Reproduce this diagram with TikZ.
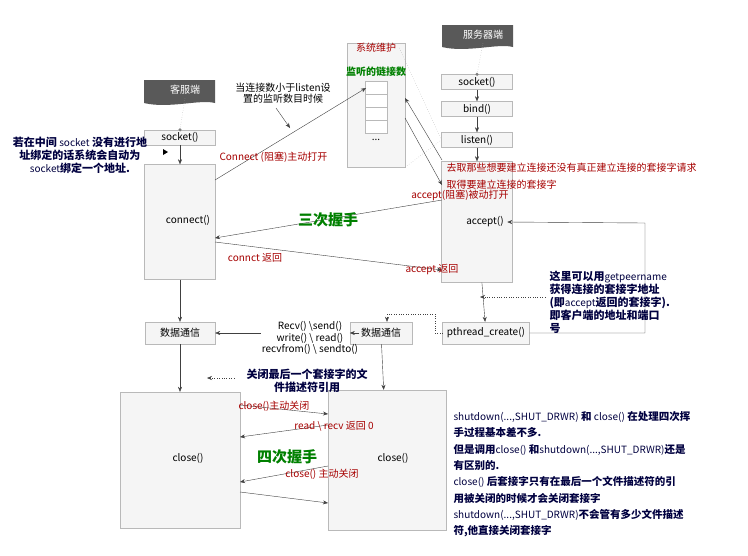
\documentclass[tikz,border=0pt]{standalone}
\usepackage{fontspec}
\setmainfont{Noto Sans CJK SC}
\usetikzlibrary{arrows.meta}
\begin{document}
\begin{tikzpicture}[x=1pt,y=-1pt,font=\fontsize{10}{11.5}\selectfont,
 box/.style={draw=gray!55,fill=gray!8,inner sep=0pt},
 arr/.style={-{Stealth[length=5pt,width=4pt]},draw=black!75},
 dots/.style={dotted,draw=gray!70},
 red/.style={text=red!65!black},
 note/.style={text=blue!25!black,font=\fontsize{11}{13}\bfseries\selectfont,align=left}]
\useasboundingbox (0,0) rectangle (748,555);
\fill[white] (0,0) rectangle (748,555);
% banners
\newcommand\banner[4]{\fill[gray!70!black] (#1,#2) -- (#3,#2) -- (#3,#4) .. controls ({#3-15},{#4-4}) and ({#1+25},{#4+6}) .. (#1,#4) -- cycle;}
\banner{144}{80}{215}{103}
\node[text=white] (cb) at (185,90) {客服端};
\banner{442}{25}{513}{47}
\node[text=white] (sb) at (483,35) {服务器端};
% client column
\node[box,minimum width=71,minimum height=15] (cs) at (180,137.5) {socket()};
\node[box,minimum width=71,minimum height=115] (cc) at (180,222) {};
\node (cct) at (188,220) {connect()};
\node[box,minimum width=70,minimum height=22] (cd) at (180,333) {数据通信};
\node[box,minimum width=120,minimum height=136] (cl) at (180,460) {};
\node at (188,458) {close()};
% server column
\node[box,minimum width=71,minimum height=15] (ss) at (477,82) {socket()};
\node[box,minimum width=71,minimum height=15] (sbd) at (477,109) {bind()};
\node[box,minimum width=71,minimum height=15] (sl) at (477,140) {listen()};
\node[box,minimum width=71,minimum height=121] (sa) at (477,222) {};
\node (sat) at (485,222) {accept()};
\node[box,minimum width=87,minimum height=22] (pc) at (486,333) {pthread\_create()};
\node[box,minimum width=62,minimum height=22] (sd) at (381,333) {数据通信};
\node[box,minimum width=118,minimum height=140] (sc) at (387,460) {};
\node at (393,458) {close()};
% queue
\node[box,minimum width=58,minimum height=124] (q) at (376,105) {};
\node[red] (qt) at (376,48) {系统维护};
\node[text=green!50!black,font=\fontsize{10}{11}\bfseries\selectfont] (qg) at (376,72) {监听的链接数};
\foreach \i in {0,1,2,3}{\draw[gray!55,fill=white] (365,{81+13*\i}) rectangle (387,{94+13*\i});}
\node (qd) at (376,140) {...};
% banner dotted connections
\draw[dots] (cb.south) -- (cs.north) node[circle,fill=gray,inner sep=1.2pt]{};
\draw[dots] (sb.south) -- (ss.north) node[circle,fill=gray,inner sep=1.2pt]{};
\draw[dots] (qt.east) -- (sl.west);
\draw[dots] (q.south east) -- (sl.west);
% vertical arrows
\draw[arr] (cs) -- (cc);
\draw[arr] (ss) -- (sbd);
\draw[arr] (sbd) -- (sl);
\draw[arr] (sl) -- (sa);
\draw[arr] (cc) -- (cd);
\draw[arr] (cd) -- (cl);
\draw[arr] (sa) -- (pc);
\draw[arr] (sd) -- (sc);
% connect to queue
\coordinate (qin) at (366,88);
\draw[arr] (215,180) -- (qin);
\node[red,anchor=west] (ct) at (216,157) {Connect (阻塞)主动打开};
\node[align=center] (nt) at (283,93) {当连接数小于listen设\\置的监听数目时候};
\coordinate (ntp) at (290,128);
\draw[arr] (276,108) -- (ntp);
\node[note,align=center] (ln) at (80,155) {若在中间 {\mdseries\fontsize{10}{13}\selectfont socket} 没有进行地\\址绑定的话系统会自动为\\{\mdseries\fontsize{10}{13}\selectfont socket}绑定一个地址.};
\fill (163,149) -- (168,152) -- (163,155) -- cycle;
% queue <-> accept
\draw[arr] (442,160) -- (405,98);
\draw[arr] (405,118) -- (442,185);
\node[red,anchor=west] (r1) at (443,168) {去取那些想要建立连接还没有真正建立连接的套接字请求};
\node[red,anchor=west] (r2) at (443,185) {取得要建立连接的套接字};
\node[red] (r3) at (460,195) {accept(阻塞)被动打开};
% three-way handshake
\draw[arr] (442,200) -- (215,238);
\draw[arr] (215,242) -- (442,270);
\node[text=green!50!black,font=\fontsize{15}{17}\bfseries\selectfont] (th) at (328,220) {三次握手};
\node[red] (cr) at (255,258) {connct 返回};
\node[red] (ar) at (432,270) {accept 返回};
% getpeername loop
\coordinate (g1) at (645,333);
\coordinate (g2) at (645,223);
\draw[arr] (pc.east) -- (g1) -- (g2) -- (sat.east);
\node[note,anchor=north west] (gn) at (546,267) {这里可以用{\mdseries\fontsize{10}{13}\selectfont getpeername}\\获得连接的套接字地址\\(即{\mdseries\fontsize{10}{13}\selectfont accept}返回的套接字).\\即客户端的地址和端口\\号};
\coordinate (gp) at (480,297);
\draw[dots,arr] (545,297) -- (gp);
% pthread to data
\coordinate (p1) at (435,333);
\coordinate (p2) at (435,314);
\coordinate (p3) at (387,314);
\draw[dots,arr] (pc.west) -- (p1) -- (p2) -- (p3) -- (sd.north -| p3);
% data exchange
\node[align=center,inner sep=1pt] (rw) at (310,338) {Recv() \textbackslash send()\\write() \textbackslash\ read()\\recvfrom() \textbackslash\ sendto()};
\draw[arr] (rw.west |- cd) -- (cd.east);
\draw[arr] (rw.east |- sd) -- (sd.west);
% close notes
\node[note,align=center] (cn) at (307,381) {关闭最后一个套接字的文\\件描述符引用};
\coordinate (cnp) at (207,378);
\draw[dots,arr] (234,378) -- (cnp);
% four-way
\draw[arr] (240,405) -- (328,414);
\draw[arr] (328,425) -- (240,437);
\draw[arr] (328,466) -- (240,482);
\draw[arr] (240,492) -- (328,503);
\node[red] (f1) at (274,406) {close()主动关闭};
\node[red] (f2) at (334,426) {read \textbackslash\ recv 返回 0};
\node[red] (f3) at (322,474) {close() 主动关闭};
\node[text=green!50!black,font=\fontsize{15}{17}\bfseries\selectfont] (fh) at (287,457) {四次握手};
\node[note,anchor=north west,font=\fontsize{10.5}{16.3}\bfseries\selectfont] (sn) at (450,408) {{\mdseries\fontsize{10}{16.3}\selectfont shutdown(...,SHUT\_DRWR)} 和 {\mdseries\fontsize{10}{16.3}\selectfont close()} 在处理四次挥\\手过程基本差不多.\\但是调用{\mdseries\fontsize{10}{16.3}\selectfont close()} 和{\mdseries\fontsize{10}{16.3}\selectfont shutdown(...,SHUT\_DRWR)}还是\\有区别的.\\{\mdseries\fontsize{10}{16.3}\selectfont close()} 后套接字只有在最后一个文件描述符的引\\用被关闭的时候才会关闭套接字\\{\mdseries\fontsize{10}{16.3}\selectfont shutdown(...,SHUT\_DRWR)}不会管有多少文件描述\\符,他直接关闭套接字};
\end{tikzpicture}
\end{document}
